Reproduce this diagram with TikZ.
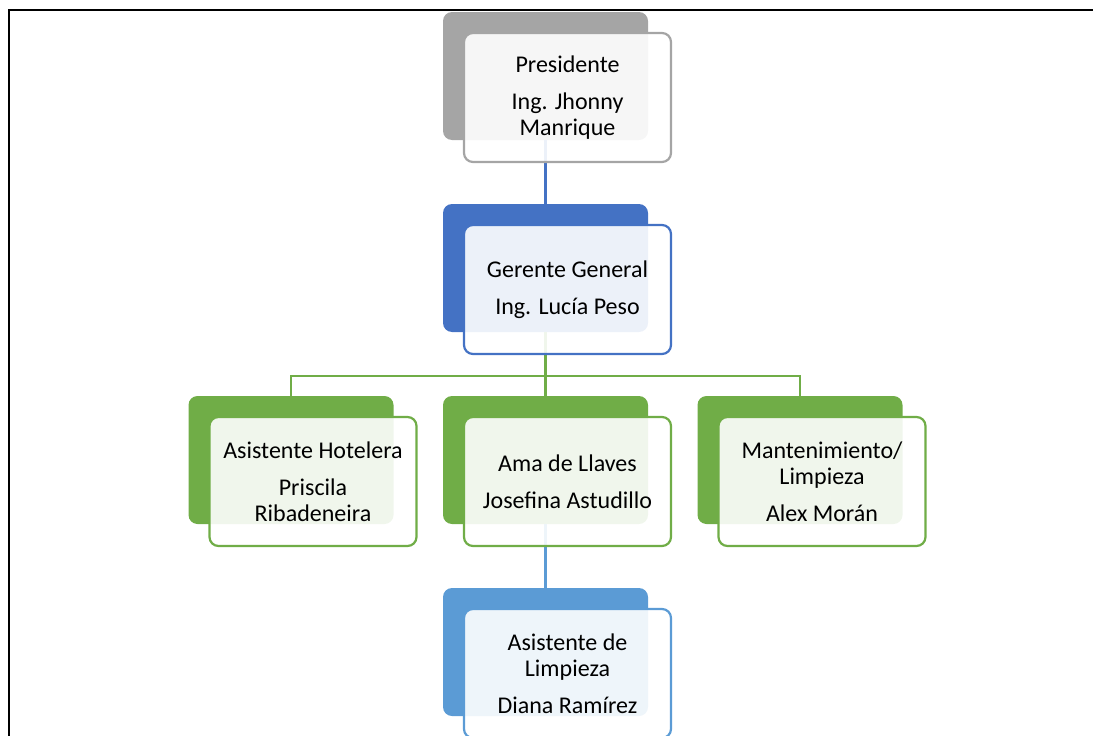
\documentclass[tikz,border=0pt]{standalone}
\usepackage{fontspec}
\setmainfont{Carlito}
\usetikzlibrary{calc}
\definecolor{grisbox}{HTML}{A5A5A5}
\definecolor{azulbox}{HTML}{4472C4}
\definecolor{verdebox}{HTML}{70AD47}
\definecolor{celestebox}{HTML}{5B9BD5}
\tikzstyle{back} = [
    rectangle,
    rounded corners=9pt,
    minimum width=205pt,
    minimum height=128pt,
    inner sep=0pt
]
\tikzstyle{front} = [
    rectangle,
    rounded corners=9pt,
    minimum width=207pt,
    minimum height=129pt,
    line width=2.2pt,
    fill=white,
    fill opacity=0.9,
    text opacity=1,
    text=black,
    align=center,
    font=\fontsize{24}{26}\selectfont,
    execute at begin node={\rule{0pt}{27pt}}
]
\tikzstyle{conn} = [line width=2.3pt]

\begin{document}
\begin{tikzpicture}[x=1pt, y=-1pt, node distance=192pt]
    \useasboundingbox (0,0) rectangle (1093,736);
    \clip (0,0) rectangle (1093,736);

    \node (pres) [back, fill=grisbox] at (545.5,76) {};
    \node (ger) [back, fill=azulbox, below of=pres] {};
    \node (ama) [back, fill=verdebox, below of=ger] {};
    \node (asis) [back, fill=verdebox, below of=ger, xshift=-254.5pt] {};
    \node (mant) [back, fill=verdebox, below of=ger, xshift=254.5pt] {};
    \node (limp) [back, fill=celestebox, below of=ama] {};

    \draw [conn, azulbox] (pres.south) -- (ger.north);
    \draw [conn, verdebox] (ger.south) -- ++(0,44) -| (asis.north);
    \draw [conn, verdebox] (ger.south) -- ++(0,44) -| (mant.north);
    \draw [conn, verdebox] (ger.south) -- (ama.north);
    \draw [conn, celestebox] (ama.south) -- (limp.north);

    \node (presf) [front, draw=grisbox] at ($(pres)+(22,21.5)$)
        {Presidente\\[11pt]Ing. Jhonny\\Manrique};
    \node (gerf) [front, draw=azulbox] at ($(ger)+(22,21.5)$)
        {Gerente General\\[11pt]Ing. Lucía Peso};
    \node (asisf) [front, draw=verdebox] at ($(asis)+(22,21.5)$)
        {Asistente Hotelera\\[11pt]Priscila\\Ribadeneira};
    \node (amaf) [front, draw=verdebox] at ($(ama)+(22,21.5)$)
        {Ama de Llaves\\[11pt]Josefina Astudillo};
    \node (mantf) [front, draw=verdebox] at ($(mant)+(22,21.5)$)
        {Mantenimiento/\\Limpieza\\[11pt]Alex Morán};
    \node (limpf) [front, draw=celestebox] at ($(limp)+(22,21.5)$)
        {Asistente de\\Limpieza\\[11pt]Diana Ramírez};

    % frame
    \draw [line width=2pt] (8.5,736) -- (8.5,10) -- (1093,10);
\end{tikzpicture}
\end{document}
